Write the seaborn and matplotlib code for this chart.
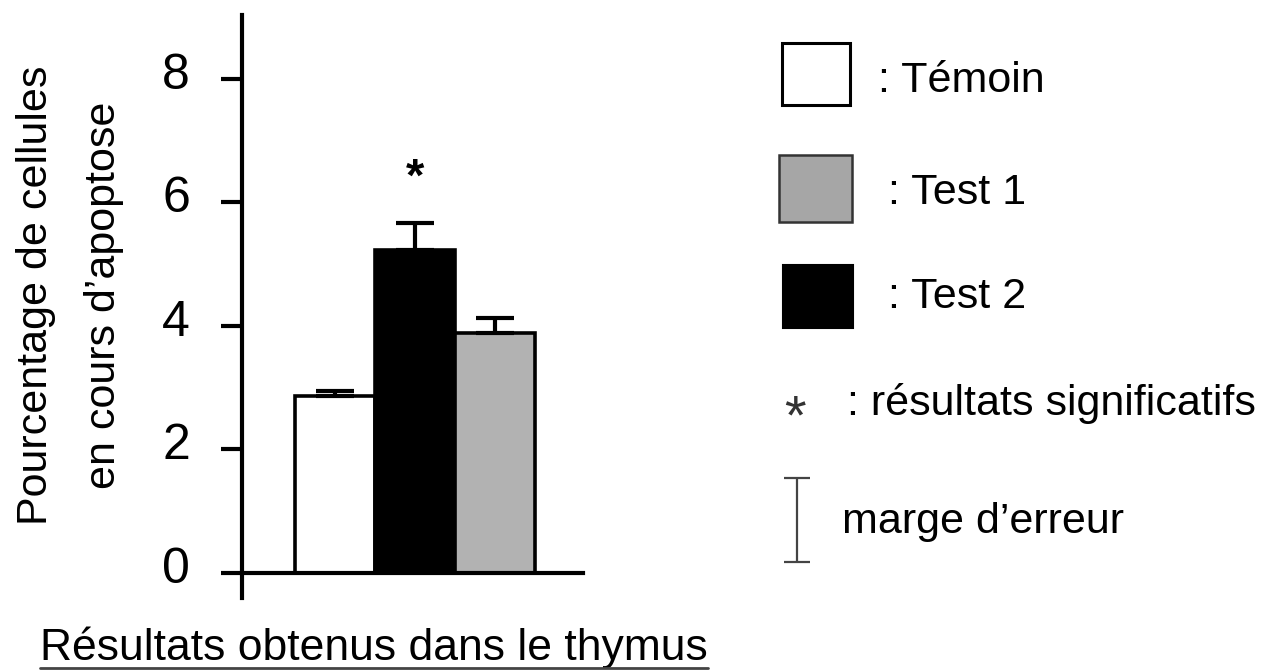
import matplotlib
matplotlib.use("Agg")
import seaborn as sns
import matplotlib.pyplot as plt
from matplotlib.patches import Rectangle
from matplotlib.lines import Line2D
from matplotlib.transforms import ScaledTranslation

sns.set_style("white")
plt.rcParams['font.family'] = ['Liberation Sans', 'DejaVu Sans']
plt.rcParams['text.color'] = 'black'
plt.rcParams['axes.labelcolor'] = 'black'

# données
groupes = ["Témoin", "Test 2", "Test 1"]
pourcentages = [2.86, 5.23, 3.89]
erreurs = [0.08, 0.44, 0.24]
couleurs = ["white", "black", "#b2b2b2"]
significatifs = ["Test 2"]
graduations = [0, 2, 4, 6, 8]

W, H = 1261, 672
fig = plt.figure(figsize=(W / 100, H / 100), dpi=100)
ax = fig.add_axes([242 / W, 1 - 598 / H, 341 / W, 583 / H])

sns.barplot(x=groupes, y=pourcentages, hue=groupes, order=groupes, hue_order=groupes,
            palette=couleurs, width=1, edgecolor="black", linewidth=2.6,
            errorbar=None, legend=False, ax=ax)
# marge d'erreur vers le haut seulement
ax.errorbar(range(len(groupes)), pourcentages, yerr=[[0] * len(erreurs), erreurs],
            fmt="none", ecolor="black", elinewidth=3, capsize=13.7, capthick=3, zorder=3)

for g in significatifs:
    i = groupes.index(g)
    ax.text(i, pourcentages[i] + erreurs[i] + 0.52, "*", ha="center", va="baseline",
            fontsize=34, fontweight="bold")

ax.set_xlim(-1.16, 3.1)
ax.set_ylim(-0.405, 9.035)
ax.set_xticks([])
ax.set_yticks(graduations)
ax.tick_params(axis="y", left=True, direction="out", length=15, width=3, pad=21,
               labelsize=36, colors="black")
for lab in ax.get_yticklabels():
    lab.set_transform(lab.get_transform() + ScaledTranslation(-0.02, 0.08, fig.dpi_scale_trans))
sns.despine(ax=ax)
ax.spines["bottom"].set_position(("data", 0))
for s in ["left", "bottom"]:
    ax.spines[s].set_linewidth(3)
    ax.spines[s].set_color("black")

ax.set_ylabel("Pourcentage de cellules\nen cours d’apoptose", fontsize=31,
              linespacing=1.9, va="center", ha="center", multialignment="center")
ax.yaxis.set_label_coords(-0.505, 0.52)

ax.set_xlabel("Résultats obtenus dans le thymus", fontsize=32, ha="left", va="baseline")
ax.xaxis.set_label_coords(-0.592, -0.106)

# légende dessinée à droite
leg = fig.add_axes([0, 0, 1, 1])
leg.set_xlim(0, W)
leg.set_ylim(H, 0)
leg.axis("off")
leg.patch.set_alpha(0)

leg.add_patch(Rectangle((782, 43), 68, 62, facecolor="white", edgecolor="black", lw=2.2))
leg.add_patch(Rectangle((779, 155), 73, 67, facecolor="#a6a6a6", edgecolor="#333333", lw=1.8))
leg.add_patch(Rectangle((783, 265), 70, 63, facecolor="black", edgecolor="black", lw=1.5))
leg.text(878, 92, ": Témoin", fontsize=31, va="baseline")
leg.text(888, 204, ": Test 1", fontsize=31, va="baseline")
leg.text(888, 308, ": Test 2", fontsize=31, va="baseline")
leg.text(795, 433, "*", fontsize=40, ha="center", va="baseline", color="#333333")
leg.text(847, 415, ": résultats significatifs", fontsize=31, va="baseline")
leg.errorbar([797], [520], yerr=[42], fmt="none", ecolor="#444444", elinewidth=1.6,
             capsize=9.5, capthick=1.6)
leg.text(842, 533, "marge d’erreur", fontsize=31, va="baseline")

# soulignement du titre
fig.canvas.draw()
bb = ax.xaxis.label.get_window_extent()
fig.add_artist(Line2D([bb.x0 / W, bb.x1 / W], [1 - 668 / H, 1 - 668 / H],
                      transform=fig.transFigure, color="#444444", lw=2))

fig.savefig("out.png", dpi=100)
